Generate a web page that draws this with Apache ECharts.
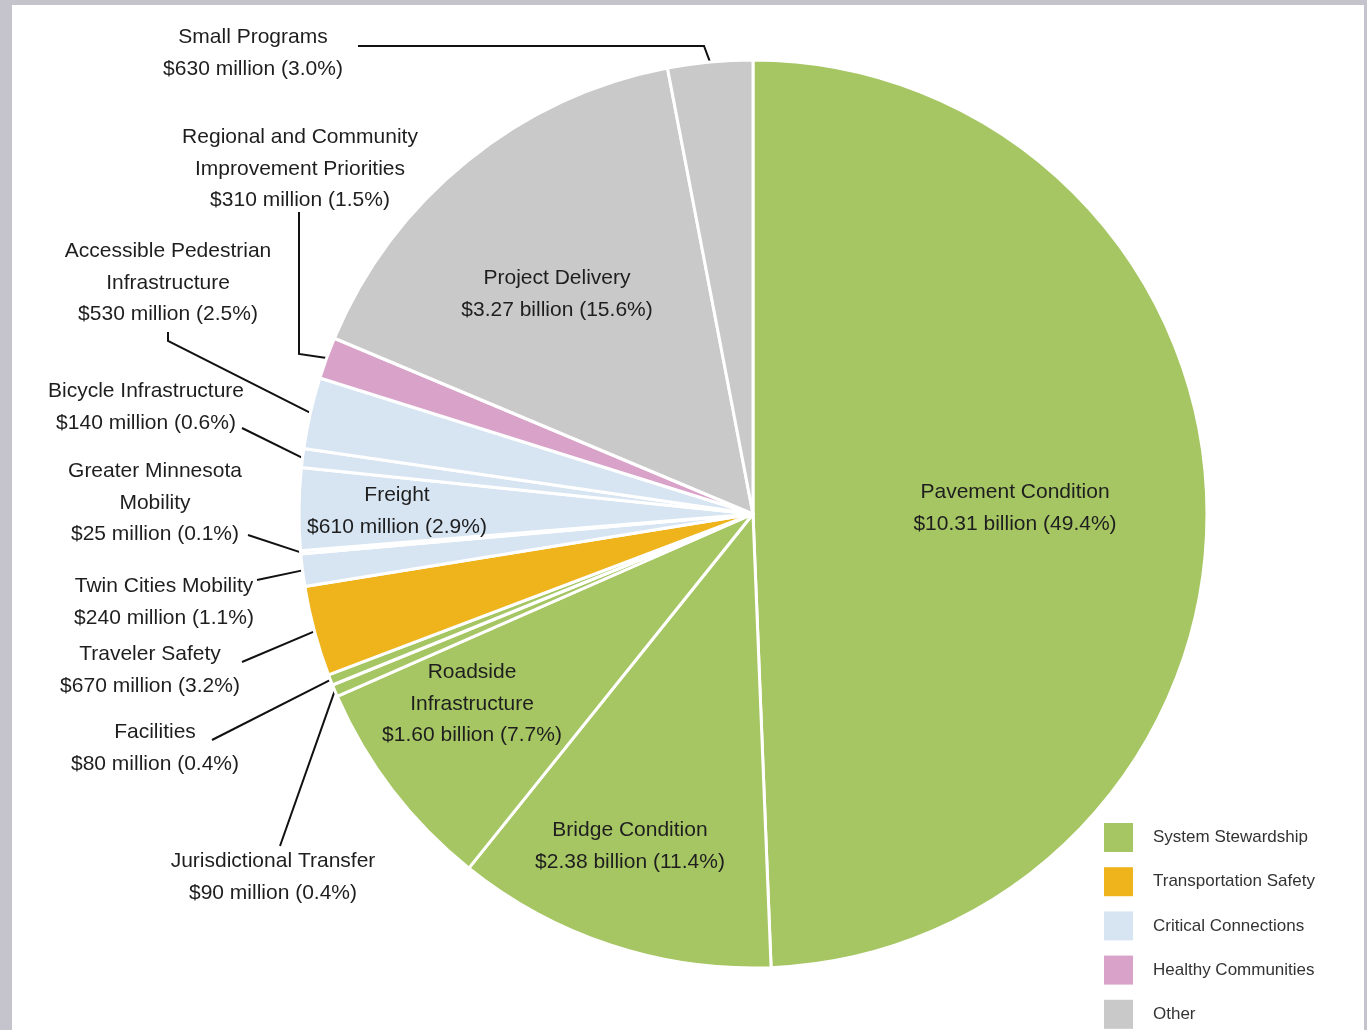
<!DOCTYPE html>
<html><head><meta charset="utf-8">
<script src="https://cdn.jsdelivr.net/npm/echarts@6/dist/echarts.min.js"></script>
<style>html,body{margin:0;padding:0;background:#c5c3cb;} #c{width:1367px;height:1030px;}</style>
</head><body><div id="c"></div>
<script>
// ---------- DATA ----------
const names = [
  'Pavement Condition', 'Bridge Condition', 'Roadside\nInfrastructure',
  'Jurisdictional Transfer', 'Facilities', 'Traveler Safety',
  'Twin Cities Mobility', 'Greater Minnesota\nMobility', 'Freight',
  'Bicycle Infrastructure', 'Accessible Pedestrian\nInfrastructure',
  'Regional and Community\nImprovement Priorities', 'Project Delivery', 'Small Programs'
];
const valuesMillions = [10310, 2380, 1600, 90, 80, 670, 240, 25, 610, 140, 530, 310, 3270, 630];
const percents = [49.4, 11.4, 7.7, 0.4, 0.4, 3.2, 1.1, 0.1, 2.9, 0.6, 2.5, 1.5, 15.6, 3.0];
const groups = [
  'System Stewardship', 'System Stewardship', 'System Stewardship',
  'System Stewardship', 'System Stewardship', 'Transportation Safety',
  'Critical Connections', 'Critical Connections', 'Critical Connections',
  'Critical Connections', 'Critical Connections', 'Healthy Communities',
  'Other', 'Other'
];
const groupNames = ['System Stewardship', 'Transportation Safety', 'Critical Connections', 'Healthy Communities', 'Other'];

// ---------- STYLE / LAYOUT ----------
const groupColors = {
  'System Stewardship': '#a6c663',
  'Transportation Safety': '#efb41c',
  'Critical Connections': '#d7e5f3',
  'Healthy Communities': '#d9a2c9',
  'Other': '#c9c9c9'
};
// label placement: center of the text block, plus leader line bend/end points
const labelSpec = [
  {pos: 'inside', x: 1015, y: 508},
  {pos: 'inside', x: 630, y: 846},
  {pos: 'inside', x: 472, y: 704},
  {pos: 'outside', x: 273, y: 877, line: [[280, 846], [280, 846]]},
  {pos: 'outside', x: 155, y: 748, line: [[212, 740], [212, 740]]},
  {pos: 'outside', x: 150, y: 670, line: [[242, 662], [242, 662]]},
  {pos: 'outside', x: 164, y: 602, line: [[257, 580], [257, 580]]},
  {pos: 'outside', x: 155, y: 503, line: [[248, 535], [248, 535]]},
  {pos: 'inside', x: 397, y: 511},
  {pos: 'outside', x: 146, y: 407, line: [[242, 428], [242, 428]]},
  {pos: 'outside', x: 168, y: 283, line: [[168, 341], [168, 332]]},
  {pos: 'outside', x: 300, y: 169, line: [[299, 354], [299, 212]]},
  {pos: 'inside', x: 557, y: 294},
  {pos: 'outside', x: 253, y: 53, line: [[704, 46], [358, 46]]}
];

function fmtAmount(v) {
  return v >= 1000 ? '$' + (v / 1000).toFixed(2) + ' billion' : '$' + v + ' million';
}

const FONT = '"Liberation Sans", Arial, sans-serif';

const pieData = names.map((n, i) => ({
  name: n,
  value: valuesMillions[i],
  itemStyle: {color: groupColors[groups[i]]},
  label: {position: labelSpec[i].pos},
  labelLine: {show: labelSpec[i].pos === 'outside'}
}));

const legendData = groupNames.map(g => ({
  name: g,
  value: valuesMillions.reduce((s, v, i) => s + (groups[i] === g ? v : 0), 0),
  itemStyle: {color: groupColors[g]}
}));

const chart = echarts.init(document.getElementById('c'), null, {renderer: 'canvas'});
chart.setOption({
  backgroundColor: '#c5c3cb',
  animation: false,
  graphic: [{
    type: 'rect', z: -1, silent: true,
    shape: {x: 12, y: 5, width: 1352, height: 1030},
    style: {fill: '#ffffff'}
  }],
  legend: {
    data: groupNames,
    orient: 'vertical',
    left: 1104, top: 823,
    padding: 0,
    itemWidth: 29, itemHeight: 29, itemGap: 15.2,
    icon: 'rect',
    selectedMode: false,
    textStyle: {fontSize: 17, color: '#333', fontFamily: FONT, padding: [0, 0, 0, 15]}
  },
  series: [{
    type: 'pie',
    center: [753, 514],
    radius: 454,
    startAngle: 90,
    clockwise: true,
    avoidLabelOverlap: false,
    itemStyle: {borderColor: '#ffffff', borderWidth: 3},
    emphasis: {disabled: true},
    label: {
      show: true,
      color: '#1e1e1e',
      fontSize: 21,
      lineHeight: 31.5,
      fontFamily: FONT,
      formatter: p => names[p.dataIndex] + '\n' + fmtAmount(valuesMillions[p.dataIndex]) + ' (' + percents[p.dataIndex].toFixed(1) + '%)'
    },
    labelLine: {show: true, lineStyle: {color: '#111', width: 2}, length: 10, length2: 10},
    labelLayout: function (params) {
      const s = labelSpec[params.dataIndex];
      const out = {x: s.x, y: s.y, align: 'center', verticalAlign: 'middle'};
      if (s.line && params.labelLinePoints) {
        out.labelLinePoints = [params.labelLinePoints[0], s.line[0], s.line[1]];
      }
      return out;
    },
    data: pieData
  }, {
    type: 'pie',
    center: [753, 514],
    radius: [0, 0],
    silent: true,
    label: {show: false},
    labelLine: {show: false},
    data: legendData
  }]
});
</script></body></html>
